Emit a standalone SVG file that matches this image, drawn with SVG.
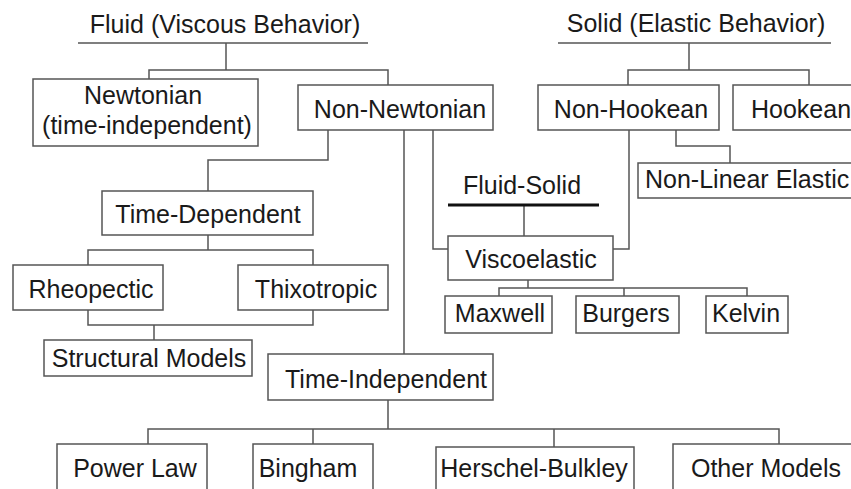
<svg xmlns="http://www.w3.org/2000/svg" width="851" height="489" viewBox="0 0 851 489">
<style>
.bg{fill:#ffffff}
.box{fill:#ffffff;stroke:#555555;stroke-width:1.5}
.t{font-family:"Liberation Sans",Arial,sans-serif;font-size:25px;fill:#1a1a1a;text-anchor:middle}
.ts{text-anchor:start}
.c{fill:none;stroke:#555555;stroke-width:1.5}
.ul{stroke:#555555;stroke-width:1.5}
.ulb{stroke:#111111;stroke-width:3}
</style>
<rect class="bg" x="0" y="0" width="851" height="489"/>
<g id="connectors">
<path class="c" d="M226 43V70M149 79V70H388V85"/>
<path class="c" d="M689 43V70M628 85V70H809V85"/>
<path class="c" d="M328 130V160H208V191"/>
<path class="c" d="M404 130V354"/>
<path class="c" d="M433 130V249H448"/>
<path class="c" d="M629 130V249H613"/>
<path class="c" d="M676 130V146H730V163"/>
<path class="c" d="M524 205V236"/>
<path class="c" d="M528 280V288M499 296V288H747V296M624 288V296"/>
<path class="c" d="M208 235V250M88 265V250H313V265"/>
<path class="c" d="M88 310V325H313V310M154 325V340"/>
<path class="c" d="M388 400V429M148 444V429H779V444M313 429V444M554 429V447"/>
</g>
<g id="fluid-header">
<line class="ul" x1="78" y1="43" x2="368" y2="43"/>
<text class="t" x="225" y="33">Fluid (Viscous Behavior)</text>
</g>
<g id="solid-header">
<line class="ul" x1="558" y1="43" x2="831" y2="43"/>
<text class="t" x="696" y="32">Solid (Elastic Behavior)</text>
</g>
<g id="newtonian">
<rect class="box" x="33" y="79" width="225" height="67"/>
<text class="t" x="143" y="104">Newtonian</text>
<text class="t" x="147" y="134">(time-independent)</text>
</g>
<g id="non-newtonian">
<rect class="box" x="298" y="85" width="195" height="45"/>
<text class="t" x="400" y="118">Non-Newtonian</text>
</g>
<g id="non-hookean">
<rect class="box" x="538" y="85" width="181" height="45"/>
<text class="t" x="631" y="118">Non-Hookean</text>
</g>
<g id="hookean">
<rect class="box" x="733" y="85" width="130" height="45"/>
<text class="t ts" x="751" y="118">Hookean</text>
</g>
<g id="non-linear-elastic">
<rect class="box" x="638" y="163" width="230" height="35"/>
<text class="t ts" x="645" y="188">Non-Linear Elastic</text>
</g>
<g id="fluid-solid">
<text class="t" x="522" y="194">Fluid-Solid</text>
<line class="ulb" x1="448" y1="205" x2="599" y2="205"/>
</g>
<g id="viscoelastic">
<rect class="box" x="448" y="236" width="165" height="44"/>
<text class="t" x="531" y="268">Viscoelastic</text>
</g>
<g id="maxwell">
<rect class="box" x="445" y="296" width="107" height="37"/>
<text class="t" x="500" y="322">Maxwell</text>
</g>
<g id="burgers">
<rect class="box" x="576" y="296" width="103" height="37"/>
<text class="t" x="626" y="322">Burgers</text>
</g>
<g id="kelvin">
<rect class="box" x="706" y="296" width="82" height="37"/>
<text class="t" x="746" y="322">Kelvin</text>
</g>
<g id="time-dependent">
<rect class="box" x="102" y="191" width="211" height="44"/>
<text class="t" x="208" y="223">Time-Dependent</text>
</g>
<g id="rheopectic">
<rect class="box" x="13" y="265" width="150" height="45"/>
<text class="t" x="91" y="298">Rheopectic</text>
</g>
<g id="thixotropic">
<rect class="box" x="238" y="265" width="150" height="45"/>
<text class="t" x="316" y="298">Thixotropic</text>
</g>
<g id="structural-models">
<rect class="box" x="44" y="340" width="208" height="36"/>
<text class="t" x="149" y="367">Structural Models</text>
</g>
<g id="time-independent">
<rect class="box" x="268" y="354" width="225" height="46"/>
<text class="t" x="386" y="388">Time-Independent</text>
</g>
<g id="power-law">
<rect class="box" x="57" y="444" width="150" height="60"/>
<text class="t" x="135" y="477">Power Law</text>
</g>
<g id="bingham">
<rect class="box" x="253" y="444" width="120" height="60"/>
<text class="t" x="308" y="477">Bingham</text>
</g>
<g id="herschel-bulkley">
<rect class="box" x="436" y="447" width="198" height="60"/>
<text class="t" x="534" y="477">Herschel-Bulkley</text>
</g>
<g id="other-models">
<rect class="box" x="673" y="444" width="190" height="60"/>
<text class="t" x="766" y="477">Other Models</text>
</g>
</svg>
